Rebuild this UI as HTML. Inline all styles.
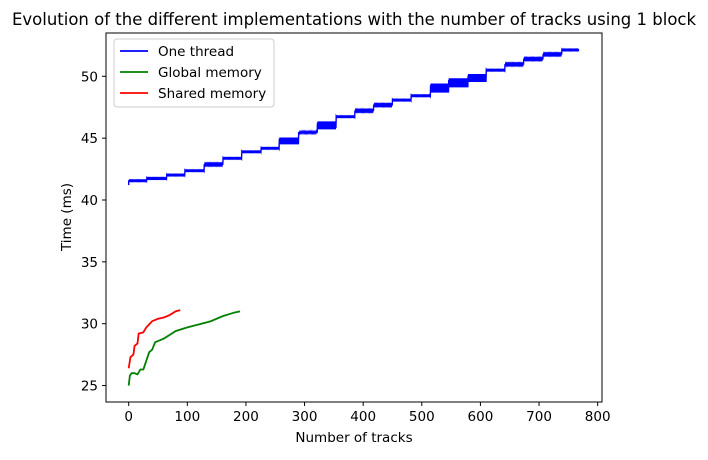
<!DOCTYPE html>
<html><head><meta charset="utf-8"><style>
body{margin:0;background:#fff;}
svg text{font-family:"DejaVu Sans","Liberation Sans",sans-serif;fill:#000;}
</style></head><body>
<svg id="chart" width="708" height="455" viewBox="0 0 708 455">
<rect width="708" height="455" fill="#fff"/>
<text x="354" y="25" font-size="16.5" text-anchor="middle">Evolution of the different implementations with the number of tracks using 1 block</text>
<g id="plot"></g>
<rect x="106" y="33" width="496" height="369" fill="none" stroke="#000" stroke-width="1"/>
<g id="axes"></g>
<text x="354" y="442" font-size="13.5" text-anchor="middle">Number of tracks</text>
<text x="71" y="217" font-size="13.5" text-anchor="middle" transform="rotate(-90 71 217)">Time (ms)</text>
<g>
<rect x="114" y="39" width="160" height="68" rx="3" fill="#fff" fill-opacity="0.8" stroke="#ccc"/>
<line x1="120" y1="51" x2="148" y2="51" stroke="blue" stroke-width="1.8"/>
<text x="158" y="56" font-size="13.5">One thread</text>
<line x1="120" y1="72" x2="148" y2="72" stroke="green" stroke-width="1.8"/>
<text x="158" y="77" font-size="13.5">Global memory</text>
<line x1="120" y1="93" x2="148" y2="93" stroke="red" stroke-width="1.8"/>
<text x="158" y="98" font-size="13.5">Shared memory</text>
</g>
</svg>
<script>
const xTicks=[0,100,200,300,400,500,600,700,800];
const yTicks=[25,30,35,40,45,50];
const oneStepStarts=[0,31,65,96,129,161,193,226,257,290,322,354,386,418,450,482,515,546,579,610,642,674,707,739];
const oneStepLevels=[41.56,41.75,42.02,42.37,42.88,43.37,43.9,44.18,44.8,45.47,46.06,46.74,47.22,47.68,48.08,48.43,49.08,49.51,49.89,50.5,50.97,51.4,51.78,52.13];
const oneStepSpread=[0.03,0.03,0.03,0.03,0.05,0.03,0.03,0.03,0.3,0.06,0.35,0.03,0.05,0.05,0.03,0.03,0.4,0.4,0.35,0.03,0.05,0.05,0.05,0.03];
const oneEnd=768;
const globalX=[0,2,5,10,15,20,25,30,35,40,45,50,60,70,80,100,120,140,160,180,190];
const globalY=[25.0,25.8,26.0,26.0,25.9,26.3,26.3,27.0,27.7,27.9,28.5,28.6,28.8,29.1,29.4,29.7,29.95,30.2,30.6,30.9,31.0];
const sharedX=[0,3,8,10,15,17,25,30,40,50,60,70,80,88];
const sharedY=[26.4,27.3,27.5,28.2,28.4,29.2,29.3,29.7,30.2,30.4,30.5,30.7,31.0,31.1];

const NS="http://www.w3.org/2000/svg";
const sx=v=>128.7+v*0.5862;
const sy=v=>200-(v-40)*12.37;
const plot=document.getElementById('plot'),axes=document.getElementById('axes');
function mk(tag,attrs,parent){const e=document.createElementNS(NS,tag);for(const k in attrs)e.setAttribute(k,attrs[k]);parent.appendChild(e);return e;}

xTicks.forEach(t=>{
  const l=mk('line',{x1:sx(t),x2:sx(t),y1:402,y2:406,stroke:'#000'},axes);
  
  
  const tx=mk('text',{x:sx(t),y:421,'font-size':13.5,'text-anchor':'middle'},axes);
  tx.textContent=t;
  
  
});
yTicks.forEach(t=>{
  const l=mk('line',{x1:102,x2:106,y1:sy(t),y2:sy(t),stroke:'#000'},axes);
  
  
  const tx=mk('text',{x:98,y:sy(t)+5,'font-size':13.5,'text-anchor':'end'},axes);
  tx.textContent=t;
  
  
});

let pts=[[sx(0),sy(41.2)]];
oneStepStarts.forEach((s,i)=>{
  const e=i+1<oneStepStarts.length?oneStepStarts[i+1]:oneEnd;
  const lv=oneStepLevels[i],sp=oneStepSpread[i];
  const n=Math.round((e-s)*2);
  for(let k=0;k<n;k++){
    const t=s+k*0.5;
    const off=(k%2===0?1:-1)*sp*(0.5+0.5*((k*3)%4)/3);
    pts.push([sx(t),sy(lv+off)]);
  }
});
pts.push([sx(oneEnd),sy(oneStepLevels[oneStepLevels.length-1])]);
const p1=mk('polyline',{points:pts.map(p=>p.join(',')).join(' '),fill:'none',stroke:'blue','stroke-width':1.4},plot);



function series(xs,ys,color,name){
  const p=mk('polyline',{points:xs.map((x,i)=>sx(x)+','+sy(ys[i])).join(' '),fill:'none',stroke:color,'stroke-width':1.8},plot);
  
  
}
series(globalX,globalY,'green','series-global-memory');
series(sharedX,sharedY,'red','series-shared-memory');
</script>
</body></html>
